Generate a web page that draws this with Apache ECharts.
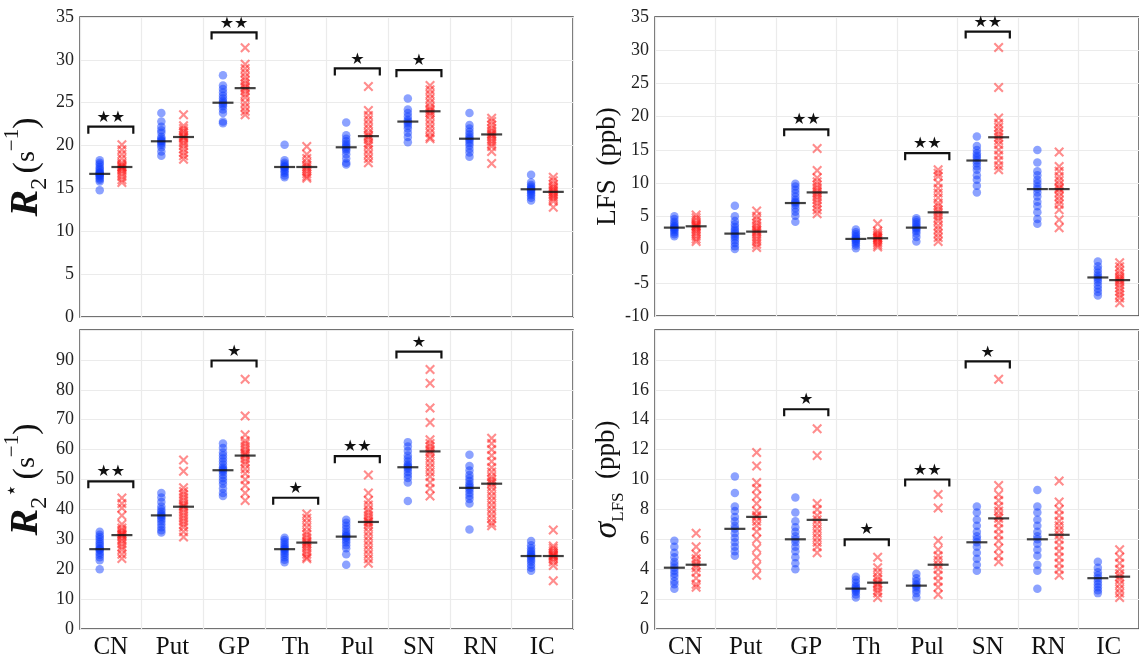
<!DOCTYPE html>
<html>
<head>
<meta charset="utf-8">
<script src="https://cdn.jsdelivr.net/npm/echarts@6/dist/echarts.min.js"></script>
<style>
  html, body { margin: 0; padding: 0; background: #fff; }
  #chart { width: 1139px; height: 660px; }
</style>
</head>
<body>
<div id="chart"></div>
<script>
const categories = ['CN', 'Put', 'GP', 'Th', 'Pul', 'SN', 'RN', 'IC'];

// R2 (s^-1), top left
const r2Blue = [
  [18.3, 18.0, 17.8, 17.5, 17.3, 17.1, 16.9, 16.8, 16.7, 16.6, 16.5, 16.4, 16.2, 16.0, 15.8, 14.8],
  [23.8, 22.8, 22.2, 21.8, 21.5, 21.0, 20.8, 20.6, 20.5, 20.3, 20.1, 19.8, 19.3, 18.8],
  [28.2, 27.0, 26.6, 26.2, 25.8, 25.5, 25.2, 25.0, 24.8, 24.6, 24.2, 23.8, 22.8, 22.6],
  [20.1, 18.3, 18.0, 17.8, 17.6, 17.5, 17.4, 17.2, 17.0, 16.8, 16.5, 16.3],
  [22.7, 21.2, 20.8, 20.5, 20.2, 20.0, 19.8, 19.6, 19.4, 19.0, 18.5, 18.0, 17.8],
  [25.5, 24.2, 23.8, 23.4, 23.0, 22.8, 22.6, 22.3, 22.0, 21.5, 21.0, 20.4],
  [23.8, 22.4, 22.0, 21.6, 21.3, 21.0, 20.8, 20.6, 20.3, 20.0, 19.6, 19.2, 18.7],
  [16.6, 15.7, 15.4, 15.2, 15.0, 14.9, 14.8, 14.6, 14.4, 14.2, 13.9, 13.6]
];
const r2Red = [
  [20.1, 19.5, 19.0, 18.5, 18.0, 17.8, 17.6, 17.5, 17.4, 17.2, 17.0, 16.7, 16.4, 16.0, 15.7],
  [23.6, 22.3, 22.0, 21.7, 21.5, 21.2, 21.0, 20.9, 20.6, 20.3, 20.0, 19.6, 19.2, 18.8, 18.4],
  [31.4, 29.5, 29.0, 28.5, 28.0, 27.6, 27.2, 26.9, 26.7, 26.4, 26.0, 25.6, 25.0, 24.5, 24.0, 23.6],
  [19.9, 19.0, 18.5, 18.0, 17.7, 17.5, 17.3, 17.0, 16.7, 16.4, 16.2],
  [26.9, 24.1, 23.5, 23.0, 22.5, 22.0, 21.5, 21.2, 21.0, 20.7, 20.3, 20.0, 19.5, 19.0, 18.5, 18.0],
  [27.0, 26.5, 26.0, 25.5, 25.0, 24.5, 24.2, 24.0, 23.8, 23.5, 23.0, 22.5, 22.0, 21.5, 21.0, 20.8],
  [23.2, 22.8, 22.4, 22.0, 21.7, 21.4, 21.3, 21.1, 20.8, 20.5, 20.2, 19.9, 19.3, 17.9],
  [16.3, 15.9, 15.5, 15.2, 15.0, 14.8, 14.6, 14.4, 14.2, 14.0, 13.8, 13.5, 12.8]
];
const r2BlueMedian = [16.7, 20.5, 25.0, 17.5, 19.8, 22.8, 20.8, 14.9];
const r2RedMedian = [17.5, 21.0, 26.7, 17.5, 21.1, 24.0, 21.3, 14.6];
const r2SigCat = [0, 2, 4, 5];
const r2SigY = [22.2, 33.2, 29.0, 28.8];
const r2SigStars = ['★★', '★★', '★', '★'];

// LFS (ppb), top right
const lfsBlue = [
  [5.0, 4.6, 4.2, 3.9, 3.6, 3.4, 3.3, 3.1, 2.9, 2.6, 2.3, 2.0],
  [6.6, 5.0, 4.3, 3.8, 3.4, 3.0, 2.7, 2.4, 2.1, 1.8, 1.4, 1.0, 0.5, 0.1],
  [9.9, 9.5, 9.0, 8.5, 8.0, 7.5, 7.2, 7.0, 6.7, 6.2, 5.7, 5.1, 4.2],
  [3.0, 2.6, 2.3, 2.0, 1.8, 1.6, 1.4, 1.2, 0.9, 0.6, 0.2],
  [4.7, 4.4, 4.1, 3.8, 3.5, 3.3, 3.1, 2.8, 2.4, 1.9, 1.2],
  [17.0, 15.6, 15.0, 14.5, 14.1, 13.8, 13.4, 13.0, 12.5, 12.0, 11.2, 10.5, 9.6, 8.6],
  [15.0, 13.1, 11.8, 11.2, 10.5, 10.0, 9.5, 9.1, 8.6, 8.0, 7.2, 6.5, 5.6, 4.6, 3.9],
  [-1.8, -2.5, -3.0, -3.5, -3.9, -4.2, -4.5, -4.9, -5.4, -5.9, -6.4, -6.9]
];
const lfsRed = [
  [5.2, 4.8, 4.4, 4.0, 3.8, 3.6, 3.5, 3.3, 3.0, 2.7, 2.4, 2.0, 1.6, 1.2],
  [5.8, 5.0, 4.5, 4.0, 3.6, 3.2, 2.9, 2.7, 2.4, 2.0, 1.6, 1.2, 0.8, 0.3],
  [15.2, 11.9, 10.8, 10.2, 9.7, 9.3, 8.9, 8.6, 8.3, 7.9, 7.5, 7.0, 6.5, 6.0, 5.4],
  [3.9, 2.8, 2.5, 2.2, 2.0, 1.8, 1.7, 1.5, 1.2, 1.0, 0.7, 0.4],
  [12.0, 11.5, 11.0, 10.0, 9.2, 8.5, 7.8, 7.0, 6.5, 6.0, 5.6, 5.2, 4.8, 4.3, 3.6, 3.0, 2.4, 1.8, 1.2],
  [30.4, 24.4, 19.8, 19.0, 18.4, 17.8, 17.3, 16.9, 16.4, 15.8, 15.0, 14.2, 13.4, 12.6, 12.0],
  [14.7, 12.5, 11.8, 11.0, 10.4, 9.8, 9.3, 9.1, 8.6, 8.0, 7.4, 6.8, 6.0, 4.5, 3.3],
  [-2.0, -2.6, -3.2, -3.7, -4.1, -4.4, -4.6, -4.9, -5.3, -5.8, -6.3, -6.8, -7.3, -8.0]
];
const lfsBlueMedian = [3.3, 2.4, 7.0, 1.6, 3.3, 13.4, 9.1, -4.2];
const lfsRedMedian = [3.5, 2.7, 8.6, 1.7, 5.6, 16.9, 9.1, -4.6];
const lfsSigCat = [2, 4, 5];
const lfsSigY = [18.1, 14.5, 32.8];
const lfsSigStars = ['★★', '★★', '★★'];

// R2* (s^-1), bottom left
const r2sBlue = [
  [32.5, 31.5, 30.8, 30.0, 29.2, 28.5, 27.8, 27.0, 26.7, 26.3, 25.5, 24.8, 24.0, 23.0, 20.0],
  [45.5, 44.0, 42.5, 41.0, 40.0, 39.2, 38.5, 38.0, 37.5, 36.8, 36.0, 35.0, 34.0, 33.0, 32.3],
  [62.0, 60.5, 59.0, 58.0, 57.0, 56.0, 55.0, 54.0, 53.5, 53.1, 52.5, 51.5, 50.5, 49.5, 48.5, 47.0, 45.5, 44.5],
  [30.5, 29.8, 29.0, 28.3, 27.6, 27.0, 26.7, 26.2, 25.5, 24.8, 24.0, 23.2, 22.3],
  [36.5, 35.5, 34.5, 33.5, 32.5, 31.8, 31.2, 30.9, 30.5, 29.8, 29.0, 28.0, 27.0, 25.0, 21.5],
  [62.5, 61.0, 59.5, 58.0, 57.0, 56.0, 55.0, 54.5, 54.1, 53.5, 52.5, 51.5, 50.5, 49.0, 42.8],
  [58.3, 54.5, 53.0, 51.5, 50.5, 49.5, 48.5, 47.8, 47.2, 46.5, 45.5, 44.5, 43.5, 42.0, 33.3],
  [29.4, 28.0, 27.0, 26.2, 25.5, 25.0, 24.4, 24.0, 23.2, 22.5, 21.5, 20.5, 19.5]
];
const r2sRed = [
  [43.8, 42.0, 40.5, 38.0, 35.0, 33.8, 33.0, 32.3, 31.8, 31.4, 31.0, 30.2, 29.5, 28.5, 27.5, 26.5, 25.0, 23.6],
  [56.5, 52.8, 47.2, 46.0, 45.0, 44.0, 43.0, 42.0, 41.2, 40.9, 40.0, 39.0, 38.0, 37.0, 36.0, 35.0, 34.0, 32.5, 30.8],
  [83.5, 71.2, 65.0, 63.0, 62.0, 61.0, 60.0, 59.0, 58.5, 58.0, 57.0, 56.0, 55.0, 53.5, 52.0, 50.0, 48.0, 45.5, 43.0],
  [38.5, 37.0, 35.5, 34.0, 32.5, 31.5, 30.5, 29.5, 28.9, 28.5, 27.8, 27.0, 26.0, 25.0, 24.0, 23.5],
  [51.5, 45.5, 43.0, 41.5, 40.0, 39.0, 38.0, 37.0, 36.0, 35.8, 35.0, 34.0, 32.5, 31.0, 29.5, 28.0, 26.5, 25.0, 23.5, 22.0],
  [86.8, 82.2, 73.9, 69.1, 63.3, 62.0, 61.0, 60.0, 59.4, 58.5, 57.0, 55.5, 54.0, 52.5, 51.0, 49.0, 47.0, 44.5],
  [63.8, 62.0, 60.0, 58.0, 56.0, 54.0, 52.5, 51.0, 50.0, 49.2, 48.6, 47.5, 46.0, 44.5, 43.0, 41.5, 40.0, 38.5, 37.0, 35.5, 34.5],
  [33.1, 27.8, 27.0, 26.2, 25.5, 25.0, 24.6, 24.4, 24.0, 23.3, 22.5, 21.2, 16.1]
];
const r2sBlueMedian = [26.7, 38.0, 53.1, 26.7, 30.9, 54.1, 47.2, 24.4];
const r2sRedMedian = [31.4, 40.9, 58.0, 28.9, 35.8, 59.4, 48.6, 24.4];
const r2sSigCat = [0, 2, 3, 4, 5];
const r2sSigY = [49.4, 89.8, 43.9, 57.8, 92.8];
const r2sSigStars = ['★★', '★', '★', '★★', '★'];

// sigma LFS (ppb), bottom right
const sigBlue = [
  [5.9, 5.5, 5.1, 4.8, 4.5, 4.3, 4.1, 3.9, 3.7, 3.5, 3.2, 3.0, 2.7],
  [10.2, 9.1, 8.2, 7.9, 7.5, 7.2, 6.9, 6.7, 6.4, 6.1, 5.8, 5.5, 5.2, 4.9],
  [8.8, 7.8, 7.2, 6.8, 6.5, 6.2, 6.0, 5.8, 5.5, 5.2, 4.8, 4.4, 4.0],
  [3.5, 3.3, 3.1, 2.9, 2.8, 2.7, 2.6, 2.5, 2.3, 2.1],
  [3.7, 3.4, 3.2, 3.0, 2.9, 2.8, 2.6, 2.4, 2.1],
  [8.2, 7.8, 7.3, 6.9, 6.5, 6.2, 6.0, 5.8, 5.5, 5.1, 4.7, 4.3, 3.9],
  [9.3, 8.2, 7.8, 7.3, 6.9, 6.5, 6.2, 6.0, 5.7, 5.3, 4.9, 4.3, 3.9, 2.7],
  [4.5, 4.1, 3.8, 3.6, 3.4, 3.2, 3.0, 2.8, 2.6, 2.4]
];
const sigRed = [
  [6.4, 5.5, 5.0, 4.7, 4.5, 4.3, 4.1, 3.8, 3.4, 3.0, 2.8],
  [11.8, 10.9, 9.8, 9.4, 8.9, 8.4, 7.9, 7.6, 7.5, 7.2, 6.9, 6.5, 6.0, 5.4, 4.8, 4.2, 3.6],
  [13.4, 11.6, 8.4, 8.0, 7.6, 7.3, 7.0, 6.7, 6.4, 6.1, 5.8, 5.5, 5.1],
  [4.8, 4.1, 3.8, 3.5, 3.3, 3.1, 3.0, 2.8, 2.6, 2.4, 2.1],
  [9.0, 8.1, 5.9, 5.3, 4.9, 4.6, 4.3, 4.0, 3.6, 3.2, 2.8, 2.3],
  [16.7, 9.6, 9.0, 8.6, 8.2, 7.9, 7.6, 7.4, 7.1, 6.7, 6.3, 5.9, 5.4, 4.9, 4.5],
  [9.9, 8.5, 8.0, 7.6, 7.2, 6.9, 6.6, 6.3, 6.0, 5.6, 5.2, 4.8, 4.4, 4.0, 3.6],
  [5.3, 4.8, 4.4, 4.0, 3.7, 3.5, 3.3, 3.0, 2.7, 2.4, 2.1]
];
const sigBlueMedian = [4.1, 6.7, 6.0, 2.7, 2.9, 5.8, 6.0, 3.4];
const sigRedMedian = [4.3, 7.5, 7.3, 3.1, 4.3, 7.4, 6.3, 3.5];
const sigSigCat = [2, 3, 4, 5];
const sigSigY = [14.7, 6.0, 10.0, 17.9];
const sigSigStars = ['★', '★', '★★', '★'];

const SERIF = "'Liberation Serif', serif";
const BLUE = 'rgba(15, 60, 255, 0.6)';
const RED = 'rgba(255, 25, 25, 0.62)';
const CROSS = 'path://M0,1.5L1.5,0L5,3.5L8.5,0L10,1.5L6.5,5L10,8.5L8.5,10L5,6.5L1.5,10L0,8.5L3.5,5Z';
const OFF = 0.18;

const panels = [
  { blue: r2Blue, red: r2Red, bMed: r2BlueMedian, rMed: r2RedMedian, sigCat: r2SigCat, sigY: r2SigY, stars: r2SigStars },
  { blue: lfsBlue, red: lfsRed, bMed: lfsBlueMedian, rMed: lfsRedMedian, sigCat: lfsSigCat, sigY: lfsSigY, stars: lfsSigStars },
  { blue: r2sBlue, red: r2sRed, bMed: r2sBlueMedian, rMed: r2sRedMedian, sigCat: r2sSigCat, sigY: r2sSigY, stars: r2sSigStars },
  { blue: sigBlue, red: sigRed, bMed: sigBlueMedian, rMed: sigRedMedian, sigCat: sigSigCat, sigY: sigSigY, stars: sigSigStars }
];

const grids = [
  { left: 80, top: 17, width: 493, height: 300 },
  { left: 655, top: 17, width: 493, height: 299 },
  { left: 80, top: 330, width: 493, height: 300 },
  { left: 655, top: 330, width: 493, height: 299 }
].map(g => Object.assign(g, { show: true, borderColor: '#444', borderWidth: 1.5, backgroundColor: '#fff' }));

const xAxes = [];
grids.forEach((g, i) => {
  const bottomRow = i >= 2;
  xAxes.push({
    type: 'category', gridIndex: i, data: categories,
    axisLine: { show: false }, axisTick: { show: false },
    axisLabel: { show: bottomRow, fontFamily: SERIF, fontSize: 25, color: '#111', margin: 6 },
    splitLine: { show: true, lineStyle: { color: '#ebebeb', width: 1.2 } }
  });
  xAxes.push({
    type: 'value', gridIndex: i, min: -0.5, max: 7.5, show: false
  });
});

const labelStyle = { fontFamily: SERIF, fontSize: 18, color: '#222', margin: 6 };
const yCommon = {
  type: 'value',
  axisLine: { show: false }, axisTick: { show: false },
  splitLine: { lineStyle: { color: '#ebebeb', width: 1.2 } },
  nameLocation: 'middle'
};
const rRich = {
  r: { fontFamily: SERIF, fontStyle: 'italic', fontWeight: 'bold', fontSize: 40, lineHeight: 50, verticalAlign: 'middle', color: '#111' },
  sub: { fontFamily: SERIF, fontSize: 24, lineHeight: 24, verticalAlign: 'bottom', color: '#111' },
  sp: { fontSize: 16 },
  p: { fontFamily: SERIF, fontSize: 34, lineHeight: 50, verticalAlign: 'middle', color: '#111' },
  s: { fontFamily: SERIF, fontSize: 28, lineHeight: 44, verticalAlign: 'middle', color: '#111' },
  sup: { fontFamily: SERIF, fontSize: 21, lineHeight: 21, verticalAlign: 'top', color: '#111' }
};

const yAxes = [
  Object.assign({}, yCommon, {
    gridIndex: 0, min: 0, max: 35, interval: 5, axisLabel: labelStyle,
    name: '{r|R}{sub|2}{sp| }{p|(}{s|s}{sup|−1}{p|)}', nameGap: 24,
    nameTextStyle: { rich: rRich }
  }),
  Object.assign({}, yCommon, {
    gridIndex: 1, min: -10, max: 35, interval: 5, axisLabel: labelStyle,
    name: 'LFS  (ppb)', nameGap: 25,
    nameTextStyle: { fontFamily: SERIF, fontSize: 27, color: '#111' }
  }),
  Object.assign({}, yCommon, {
    gridIndex: 2, min: 0, max: 100, interval: 10,
    axisLabel: Object.assign({}, labelStyle, { formatter: v => (v === 100 ? '' : v) }),
    name: '{r|R}{sub|2}{sup|⋆}{sp| }{p|(}{s|s}{sup|−1}{p|)}', nameGap: 28,
    nameTextStyle: { rich: rRich }
  }),
  Object.assign({}, yCommon, {
    gridIndex: 3, min: 0, max: 20, interval: 2,
    axisLabel: Object.assign({}, labelStyle, { formatter: v => (v === 20 ? '' : v) }),
    name: '{g|σ}{sub|LFS}{p|  (ppb)}', nameGap: 25,
    nameTextStyle: {
      rich: {
        g: { fontFamily: SERIF, fontStyle: 'italic', fontSize: 34, lineHeight: 40, verticalAlign: 'middle', color: '#111' },
        sub: { fontFamily: SERIF, fontSize: 17, lineHeight: 17, verticalAlign: 'bottom', color: '#111' },
        p: { fontFamily: SERIF, fontSize: 27, lineHeight: 40, verticalAlign: 'middle', color: '#111' }
      }
    }
  })
];

const series = [];
panels.forEach((p, i) => {
  const xi = 2 * i + 1;
  series.push({
    type: 'scatter', xAxisIndex: xi, yAxisIndex: i, symbol: 'circle', symbolSize: 8.5,
    itemStyle: { color: BLUE }, silent: true,
    data: p.blue.flatMap((vals, c) => vals.map(v => [c - OFF, v]))
  });
  series.push({
    type: 'scatter', xAxisIndex: xi, yAxisIndex: i, symbol: CROSS, symbolSize: 10,
    itemStyle: { color: RED }, silent: true,
    data: p.red.flatMap((vals, c) => vals.map(v => [c + OFF, v]))
  });
  series.push({
    type: 'scatter', xAxisIndex: xi, yAxisIndex: i, symbol: 'rect', symbolSize: [21, 2.2],
    itemStyle: { color: '#111' }, silent: true, z: 5,
    data: p.bMed.map((v, c) => [c - OFF, v]).concat(p.rMed.map((v, c) => [c + OFF, v]))
  });
  series.push({
    type: 'custom', xAxisIndex: xi, yAxisIndex: i, silent: true, z: 6,
    data: p.sigCat.map((c, k) => [c, p.sigY[k]]),
    renderItem: (params, api) => {
      const x = api.value(0), y = api.value(1);
      const a = api.coord([x - 0.365, y]);
      const b = api.coord([x + 0.365, y]);
      return {
        type: 'group',
        children: [
          {
            type: 'polyline',
            shape: { points: [[a[0], a[1] + 7], a, b, [b[0], b[1] + 7]] },
            style: { stroke: '#111', lineWidth: 2.2, fill: null }
          },
          {
            type: 'text',
            style: {
              text: p.stars[params.dataIndex], x: (a[0] + b[0]) / 2, y: a[1] - 1,
              align: 'center', verticalAlign: 'bottom',
              font: '16px "DejaVu Sans"', fill: '#111'
            }
          }
        ]
      };
    }
  });
});

const chart = echarts.init(document.getElementById('chart'), null, { renderer: 'canvas' });
chart.setOption({
  animation: false,
  backgroundColor: '#fff',
  grid: grids,
  xAxis: xAxes,
  yAxis: yAxes,
  series: series
});
</script>
</body>
</html>
